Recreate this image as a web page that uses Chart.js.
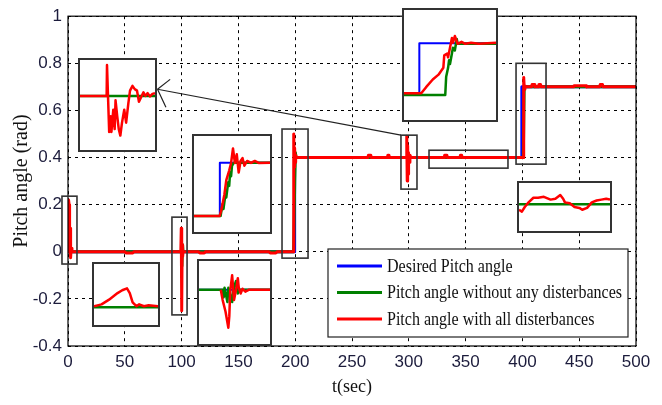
<!DOCTYPE html>
<html><head><meta charset="utf-8">
<script src="https://cdn.jsdelivr.net/npm/chart.js@4"></script>
<style>
html,body{margin:0;padding:0;background:#fff;overflow:hidden}
#wrap{position:relative;width:662px;height:405px;background:#fff}
#main{position:absolute;left:0;top:0}
.inset{position:absolute;background:#fff;box-sizing:border-box;border:2px solid #333}
.inset canvas{display:block}
</style></head>
<body><div id="wrap"><canvas id="main" width="662" height="405"></canvas></div>
<script>
// ---------- axis ticks ----------
const xTicks = [0, 50, 100, 150, 200, 250, 300, 350, 400, 450, 500];
const xTickLabels = ['0', '50', '100', '150', '200', '250', '300', '350', '400', '450', '500'];
const yTicks = [-0.4, -0.2, 0, 0.2, 0.4, 0.6, 0.8, 1];
const yTickLabels = ['-0.4', '-0.2', '0', '0.2', '0.4', '0.6', '0.8', '1'];
const seriesNames = ['Desired Pitch angle', 'Pitch angle without any disterbances', 'Pitch angle with all disterbances'];

// ---------- main series ----------
const blueT = [0, 199.5, 199.5, 399.5, 399.5, 500];
const blueV = [0, 0, 0.4, 0.4, 0.7, 0.7];

const greenT = [0, 99.8, 100.3, 100.8, 101.3, 198.6, 199.6, 200.2, 200.8, 400.8, 401.6, 500];
const greenV = [0, 0, -0.06, 0.03, 0, 0, 0.3, 0.42, 0.4, 0.4, 0.7, 0.7];

const redT = [0, 0.5, 1.0, 1.4, 1.8, 2.3, 2.8, 3.5, 50, 51, 57, 58,
  99.3, 99.7, 100.1, 100.5, 100.9, 101.3, 115, 116, 120, 121, 177, 178, 183, 184,
  198.3, 198.7, 199.1, 199.5, 199.9, 200.4, 201, 264, 264.5, 266.5, 267, 281, 281.5, 282.5, 283,
  297.8, 298.2, 298.6, 299.0, 299.4, 299.8, 300.3, 301, 302, 331, 331.5, 333.5, 334, 345, 345.5, 346.5, 347,
  400.6, 401.0, 401.3, 401.7, 402.2, 403, 408, 408.5, 410.5, 411, 414, 414.5, 416, 416.5,
  445, 445.5, 456, 456.5, 468, 468.5, 470.5, 471, 500];
const redV = [0, 0.22, 0.2, 0.06, 0.1, -0.025, 0.015, 0, 0, -0.005, -0.005, 0,
  0, 0.1, -0.25, 0.03, -0.02, 0, 0, -0.005, -0.005, 0, 0, -0.005, -0.005, 0,
  0, 0.5, 0.36, 0.44, 0.38, 0.41, 0.4, 0.4, 0.41, 0.41, 0.4, 0.4, 0.41, 0.41, 0.4,
  0.4, 0.49, 0.3, 0.45, 0.33, 0.42, 0.38, 0.41, 0.4, 0.4, 0.41, 0.41, 0.4, 0.4, 0.41, 0.41, 0.4,
  0.4, 0.6, 0.74, 0.69, 0.705, 0.7, 0.7, 0.71, 0.71, 0.7, 0.7, 0.71, 0.71, 0.7,
  0.7, 0.705, 0.705, 0.7, 0.7, 0.71, 0.71, 0.7, 0.7];

// ---------- inset A: zoom of the disturbance near t = 300 ----------
const insA_redT = [295, 298.55, 298.6, 298.89, 299.1, 299.19, 299.44, 299.62, 299.74, 299.96, 300.17, 300.38, 300.6, 300.9, 301.15, 301.45, 301.67, 302.0, 302.3, 302.6, 302.86, 303.16, 303.46, 303.72, 304.02, 304.32, 304.66, 305];
const insA_redV = [0.40, 0.40, 0.486, 0.30, 0.344, 0.30, 0.362, 0.308, 0.388, 0.344, 0.308, 0.29, 0.326, 0.362, 0.326, 0.38, 0.415, 0.428, 0.419, 0.415, 0.384, 0.397, 0.41, 0.40, 0.408, 0.399, 0.406, 0.408];
const insA_greenT = [295, 305];
const insA_greenV = [0.40, 0.40];

// ---------- inset B: zoom of the step at t = 200 ----------
const insB_blueT = [194, 197.4, 197.4, 204];
const insB_blueV = [0, 0, 0.4, 0.4];
const insB_greenT = [194, 197.5, 197.75, 197.88, 198.13, 198.25, 198.5, 198.63, 198.75, 198.88, 199.0, 199.25, 204];
const insB_greenV = [0, 0, 0.089, 0.053, 0.161, 0.139, 0.254, 0.226, 0.326, 0.298, 0.377, 0.40, 0.40];
const insB_redT = [194, 197.38, 197.63, 198.0, 198.25, 198.63, 198.88, 199.13, 199.38, 199.63, 199.88, 200.13, 200.38, 200.63, 201.0, 201.5, 202.0, 202.5, 204];
const insB_redV = [0, 0, 0.053, 0.161, 0.269, 0.341, 0.398, 0.506, 0.398, 0.463, 0.326, 0.413, 0.434, 0.377, 0.413, 0.398, 0.413, 0.398, 0.40];

// ---------- inset C: zoom of the disturbance near t = 100 ----------
const insC_blueT = [95, 110];
const insC_blueV = [0, 0];
const insC_greenT = [95, 100.0, 100.2, 100.4, 101.0, 101.2, 102.0, 102.2, 102.8, 103.2, 103.6, 110];
const insC_greenV = [0, 0, -0.051, 0.013, -0.082, 0.013, -0.082, -0.006, 0.057, -0.025, 0, 0];
const insC_redT = [99.6, 100.0, 100.6, 101.2, 101.4, 101.6, 102.0, 102.2, 102.4, 102.8, 103.2, 103.4, 103.8, 104.2, 104.8, 105.6, 110];
const insC_redV = [0, -0.069, -0.145, -0.252, -0.177, -0.006, 0.095, 0.013, -0.069, -0.006, 0.076, 0.013, -0.025, 0.006, -0.013, 0, 0];

// ---------- inset D: zoom of a small bump near t = 50 ----------
const insD_greenT = [50, 58.5];
const insD_greenV = [-0.0002, -0.0002];
const insD_redT = [50, 51, 52, 53.13, 53.75, 54.38, 54.75, 55.13, 55.63, 56.0, 56.63, 57.25, 58.5];
const insD_redV = [0, 0.0004, 0.0014, 0.0028, 0.0034, 0.0038, 0.0028, 0.0008, 0, 0.0004, 0, 0.0002, 0];

// ---------- inset E: zoom of the step at t = 400 ----------
const insE_blueT = [398, 400, 400, 410];
const insE_blueV = [0.4, 0.4, 0.7, 0.7];
const insE_greenT = [398, 403.38, 403.5, 403.75, 403.88, 404.0, 404.25, 404.38, 404.63, 404.88, 405.0, 405.5, 410];
const insE_greenV = [0.39, 0.39, 0.50, 0.553, 0.599, 0.576, 0.639, 0.674, 0.657, 0.726, 0.697, 0.697, 0.697];
const insE_redT = [398, 400.25, 400.88, 401.75, 402.5, 403.13, 403.25, 403.63, 403.75, 404.0, 404.25, 404.38, 404.63, 405.0, 405.5, 406.0, 406.75, 407.75, 410];
const insE_redV = [0.4, 0.4, 0.437, 0.483, 0.512, 0.553, 0.628, 0.639, 0.616, 0.674, 0.732, 0.703, 0.744, 0.697, 0.709, 0.697, 0.703, 0.697, 0.703];

// ---------- inset F: zoom of the steady state after t = 400 ----------
const insF_greenT = [420, 480];
const insF_greenV = [0.70, 0.70];
const insF_redT = [420, 421.9, 423.8, 426.3, 429.5, 432.6, 436.4, 440.8, 444.0, 447.2, 449.1, 450.3, 453.5, 456.6, 459.8, 461.7, 464.9, 468.0, 471.2, 474.3, 477.5, 480];
const insF_redV = [0.694, 0.692, 0.697, 0.702, 0.707, 0.707, 0.708, 0.705, 0.706, 0.710, 0.706, 0.702, 0.701, 0.697, 0.696, 0.694, 0.696, 0.702, 0.704, 0.705, 0.706, 0.705];

// ---------- layout (in main-axis data coordinates) ----------
const zoomBoxes = [[-5.3, 7.9, -0.052, 0.236], [91.5, 104.8, -0.268, 0.147], [188.4, 211.3, -0.027, 0.521],
  [293.1, 307.2, 0.266, 0.495], [317.8, 387.3, 0.355, 0.431], [394.4, 420.8, 0.372, 0.80]];
const arrowFrom = [293.1, 0.495];
const arrowTo = [78.8, 0.690];

const BLUE = '#0000ff', GREEN = '#008000', RED = '#ff0000';
const pts = (T, V) => T.map((t, i) => ({x: t, y: V[i]}));

const insets = [
  {rect: [8.8, 78.1, 0.423, 0.822], xr: [295, 305], yr: [0.25, 0.5],
   series: [[insA_greenT, insA_greenV, GREEN], [insA_redT, insA_redV, RED]]},
  {rect: [109.2, 179.6, 0.075, 0.499], xr: [194, 204], yr: [-0.12, 0.6],
   series: [[insB_blueT, insB_blueV, BLUE], [insB_greenT, insB_greenV, GREEN], [insB_redT, insB_redV, RED]]},
  {rect: [113.6, 179.6, -0.40, -0.031], xr: [95, 110], yr: [-0.36, 0.19],
   series: [[insC_blueT, insC_blueV, BLUE], [insC_greenT, insC_greenV, GREEN], [insC_redT, insC_redV, RED]]},
  {rect: [21.1, 81.0, -0.319, -0.044], xr: [50, 58.5], yr: [-0.004, 0.009],
   series: [[insD_greenT, insD_greenV, GREEN], [insD_redT, insD_redV, RED]]},
  {rect: [294.0, 378.5, 0.550, 1.034], xr: [398, 410], yr: [0.24, 0.9],
   series: [[insE_blueT, insE_blueV, BLUE], [insE_greenT, insE_greenV, GREEN], [insE_redT, insE_redV, RED]]},
  {rect: [395.2, 478.9, 0.079, 0.30], xr: [420, 480], yr: [0.671, 0.723],
   series: [[insF_greenT, insF_greenV, GREEN], [insF_redT, insF_redV, RED]]}
];

const tickFont = {family: "'Liberation Sans Narrow', 'Liberation Sans', Arial, sans-serif", size: 17};
const tickColor = '#1c1c3c';

const overlay = {
  id: 'overlay',
  afterDraw(chart) {
    const {ctx, chartArea: a, scales: {x, y}} = chart;
    ctx.save();
    // axes frame
    ctx.strokeStyle = '#000'; ctx.lineWidth = 1.2; ctx.setLineDash([]);
    ctx.strokeRect(a.left, a.top, a.right - a.left, a.bottom - a.top);
    // zoom boxes
    ctx.strokeStyle = '#333'; ctx.lineWidth = 1.6;
    zoomBoxes.forEach(b => {
      const l = x.getPixelForValue(b[0]), r = x.getPixelForValue(b[1]);
      const t = y.getPixelForValue(b[3]), bt = y.getPixelForValue(b[2]);
      ctx.strokeRect(l, t, r - l, bt - t);
    });
    // arrow
    const x1 = x.getPixelForValue(arrowFrom[0]), y1 = y.getPixelForValue(arrowFrom[1]);
    const x2 = x.getPixelForValue(arrowTo[0]), y2 = y.getPixelForValue(arrowTo[1]);
    ctx.strokeStyle = '#222'; ctx.lineWidth = 1.2;
    ctx.beginPath(); ctx.moveTo(x1, y1); ctx.lineTo(x2, y2); ctx.stroke();
    const ang = Math.atan2(y1 - y2, x1 - x2);
    [[-0.85, 16], [0.95, 20]].forEach(([d, len]) => {
      ctx.beginPath(); ctx.moveTo(x2, y2);
      ctx.lineTo(x2 + len * Math.cos(ang + d), y2 + len * Math.sin(ang + d)); ctx.stroke();
    });
    // legend
    const lw = 300, lh = 88;
    const lx = a.right - 8 - lw, ly = a.bottom - 9 - lh;
    ctx.fillStyle = '#fff'; ctx.fillRect(lx, ly, lw, lh);
    ctx.strokeStyle = '#222'; ctx.lineWidth = 1.2; ctx.strokeRect(lx, ly, lw, lh);
    ctx.font = "19px 'Liberation Serif', 'Times New Roman', serif";
    ctx.textBaseline = 'middle'; ctx.textAlign = 'left'; ctx.fillStyle = '#111';
    const maxW = Math.max(...seriesNames.map(s => ctx.measureText(s).width));
    const sx = Math.min(1, (lw - 65) / maxW);
    chart.data.datasets.forEach((ds, i) => {
      const cy = ly + 17 + i * 26.5;
      ctx.strokeStyle = ds.borderColor; ctx.lineWidth = 3;
      ctx.beginPath(); ctx.moveTo(lx + 9, cy); ctx.lineTo(lx + 54, cy); ctx.stroke();
      ctx.save(); ctx.translate(lx + 59, cy + 1); ctx.scale(sx, 1);
      ctx.fillText(ds.label, 0, 0); ctx.restore();
    });
    ctx.restore();
  }
};

const main = new Chart(document.getElementById('main'), {
  type: 'line',
  data: {datasets: [
    {label: seriesNames[0], data: pts(blueT, blueV), borderColor: BLUE, borderWidth: 3, order: 3},
    {label: seriesNames[1], data: pts(greenT, greenV), borderColor: GREEN, borderWidth: 3, order: 2},
    {label: seriesNames[2], data: pts(redT, redV), borderColor: RED, borderWidth: 3, order: 1}
  ]},
  options: {
    responsive: false, animation: false, devicePixelRatio: 1,
    layout: {padding: {left: 0, right: 26, top: 16, bottom: 0}},
    elements: {point: {radius: 0}, line: {tension: 0, borderJoinStyle: 'round'}},
    plugins: {legend: {display: false}, tooltip: {enabled: false}},
    scales: {
      x: {type: 'linear', min: 0, max: 500,
        afterBuildTicks: s => { s.ticks = xTicks.map(v => ({value: v})); },
        afterFit: s => { s.height = 59; },
        ticks: {callback: (v, i) => xTickLabels[i], padding: 6, font: tickFont, color: tickColor, maxRotation: 0, autoSkip: false},
        grid: {color: '#000', lineWidth: 1, drawTicks: false},
        border: {display: false, dash: [3, 4]},
        title: {display: true, text: 't(sec)', color: '#111', font: {family: "'Liberation Serif', 'Times New Roman', serif", size: 18}, padding: {top: 0, bottom: 7}}
      },
      y: {type: 'linear', min: -0.4, max: 1,
        afterBuildTicks: s => { s.ticks = yTicks.map(v => ({value: v})); },
        afterFit: s => { s.width = 68; },
        ticks: {callback: (v, i) => yTickLabels[i], padding: 6, font: tickFont, color: tickColor, autoSkip: false},
        grid: {color: '#000', lineWidth: 1, drawTicks: false},
        border: {display: false, dash: [3, 4]},
        title: {display: true, text: 'Pitch angle (rad)', color: '#111', font: {family: "'Liberation Serif', 'Times New Roman', serif", size: 20}, padding: {top: 10, bottom: 0}}
      }
    }
  },
  plugins: [overlay]
});

// ---------- insets ----------
const wrap = document.getElementById('wrap');
insets.forEach(ins => {
  const xs = main.scales.x, ys = main.scales.y;
  const l = Math.round(xs.getPixelForValue(ins.rect[0])), r = Math.round(xs.getPixelForValue(ins.rect[1]));
  const t = Math.round(ys.getPixelForValue(ins.rect[3])), b = Math.round(ys.getPixelForValue(ins.rect[2]));
  const div = document.createElement('div');
  div.className = 'inset';
  div.style.left = l + 'px'; div.style.top = t + 'px';
  div.style.width = (r - l) + 'px'; div.style.height = (b - t) + 'px';
  const cv = document.createElement('canvas');
  cv.width = r - l - 4; cv.height = b - t - 4;
  div.appendChild(cv); wrap.appendChild(div);
  const n = ins.series.length;
  new Chart(cv, {
    type: 'line',
    data: {datasets: ins.series.map(([T, V, c], i) => ({data: pts(T, V), borderColor: c, borderWidth: c === BLUE ? 2 : 2.5, order: n - i}))},
    options: {
      responsive: false, animation: false, devicePixelRatio: 1,
      layout: {padding: 0},
      elements: {point: {radius: 0}, line: {tension: 0, borderJoinStyle: 'round'}},
      plugins: {legend: {display: false}, tooltip: {enabled: false}},
      scales: {
        x: {type: 'linear', display: false, min: ins.xr[0], max: ins.xr[1]},
        y: {type: 'linear', display: false, min: ins.yr[0], max: ins.yr[1]}
      }
    }
  });
});
</script>
</body></html>
